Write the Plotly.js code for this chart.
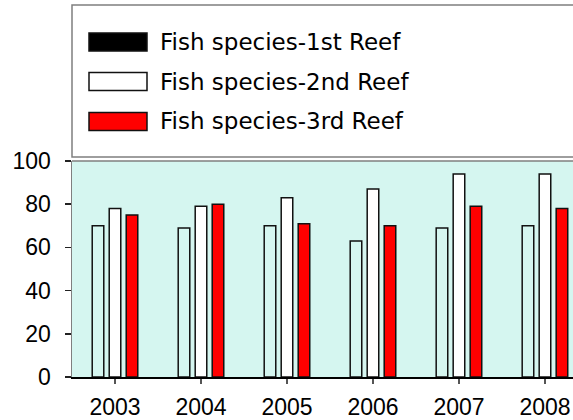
<!DOCTYPE html>
<html>
<head>
<meta charset="utf-8">
<script src="https://cdn.plot.ly/plotly-3.0.1.min.js"></script>
<style>html,body{margin:0;padding:0;background:#fff;}#chart{width:573px;height:420px;}</style>
</head>
<body>
<div id="chart"></div>
<script>
var years = ['2003', '2004', '2005', '2006', '2007', '2008'];
var seriesNames = ['Fish species-1st Reef', 'Fish species-2nd Reef', 'Fish species-3rd Reef'];
var reef1 = [70, 69, 70, 63, 69, 70];
var reef2 = [78, 79, 83, 87, 94, 94];
var reef3 = [75, 80, 71, 70, 79, 78];
var barFills = ['rgba(0,0,0,0)', '#ffffff', '#ff0000'];
var legendFills = ['#000000', '#ffffff', '#ff0000'];
var yTicks = [0, 20, 40, 60, 80, 100];

var values = [reef1, reef2, reef3];
var traces = values.map(function (v, i) {
  return {
    type: 'bar', x: years, y: v, name: seriesNames[i], showlegend: false,
    marker: {color: barFills[i], line: {color: '#111111', width: 1.5}},
    hoverinfo: 'x+y'
  };
});

var W = 573, H = 420, L = 72, T = 161, B = 43;
var pw = W - L, ph = H - T - B;
function px(x) { return (x - L) / pw; }
function py(y) { return (H - B - y) / ph; }

var shapes = [];
var annotations = [];
// legend box
shapes.push({type: 'rect', xref: 'paper', yref: 'paper', x0: px(72), x1: px(580), y0: py(157), y1: py(5),
  line: {color: '#7f7f7f', width: 1.5}, fillcolor: 'rgba(0,0,0,0)'});
var rowY = [42, 81.5, 121.5];
seriesNames.forEach(function (n, i) {
  shapes.push({type: 'rect', xref: 'paper', yref: 'paper', x0: px(89), x1: px(147), y0: py(rowY[i] + 9), y1: py(rowY[i] - 9),
    line: {color: '#111111', width: 1.5}, fillcolor: legendFills[i]});
  annotations.push({xref: 'paper', yref: 'paper', x: px(158), y: py(rowY[i]), xanchor: 'left', yanchor: 'middle',
    text: n, showarrow: false, font: {family: '"DejaVu Sans", sans-serif', size: 23, color: '#000'}});
});
// plot area border (top)
shapes.push({type: 'line', xref: 'paper', yref: 'paper', x0: 0, x1: 1.02, y0: 1, y1: 1, line: {color: '#7f7f7f', width: 1.5}});

var layout = {
  width: W, height: H,
  margin: {l: L, r: 0, t: T, b: B, pad: 0},
  paper_bgcolor: '#ffffff',
  plot_bgcolor: '#d5f6f0',
  showlegend: false,
  barmode: 'group',
  bargap: 0.407,
  bargroupgap: 0.32,
  font: {family: '"Liberation Sans", Arial, sans-serif', color: '#000'},
  xaxis: {
    type: 'category', range: [-0.5, 5.326],
    showgrid: false, zeroline: false,
    showline: true, linecolor: '#000000', linewidth: 1.5,
    ticks: 'outside', ticklen: 5, tickcolor: '#555555', tickwidth: 1.5,
    ticklabelstandoff: 4,
    tickfont: {size: 23, family: '"Liberation Sans", Arial, sans-serif', color: '#000'}
  },
  yaxis: {
    range: [0, 100], tickvals: yTicks, ticktext: yTicks.map(String),
    showgrid: false, zeroline: false,
    showline: true, linecolor: '#7f7f7f', linewidth: 1.5,
    ticks: 'outside', ticklen: 6, tickcolor: '#222222', tickwidth: 1.5,
    ticklabelstandoff: 9,
    tickfont: {size: 23, family: '"Liberation Sans", Arial, sans-serif', color: '#000'}
  },
  shapes: shapes,
  annotations: annotations
};

Plotly.newPlot('chart', traces, layout, {staticPlot: true, displayModeBar: false});
</script>
</body>
</html>
